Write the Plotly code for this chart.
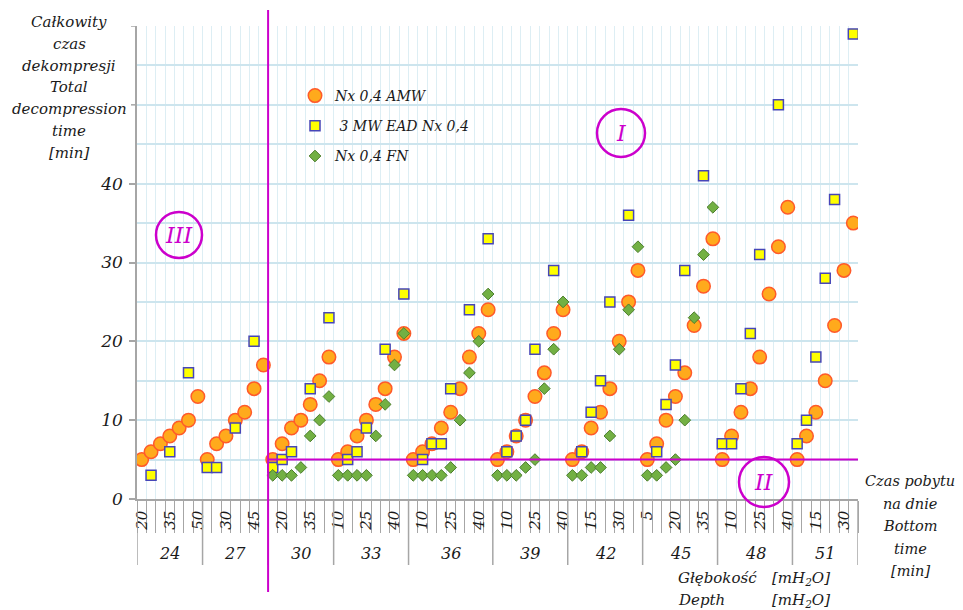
import plotly.graph_objects as go

# ---------------- data ----------------
depths = [24, 27, 30, 33, 36, 39, 42, 45, 48, 51]
bottom_times = [
    [20, 25, 30, 35, 40, 45, 50],
    [20, 25, 30, 35, 40, 45, 50],
    [15, 20, 25, 30, 35, 40, 45],
    [10, 15, 20, 25, 30, 35, 40, 45],
    [5, 10, 15, 20, 25, 30, 35, 40, 45],
    [5, 10, 15, 20, 25, 30, 35, 40],
    [5, 10, 15, 20, 25, 30, 35, 40],
    [5, 10, 15, 20, 25, 30, 35, 40],
    [5, 10, 15, 20, 25, 30, 35, 40],
    [5, 10, 15, 20, 25, 30, 35],
]
nx_amw = [
    [5, 6, 7, 8, 9, 10, 13],
    [5, 7, 8, 10, 11, 14, 17],
    [5, 7, 9, 10, 12, 15, 18],
    [5, 6, 8, 10, 12, 14, 18, 21],
    [5, 6, 7, 9, 11, 14, 18, 21, 24],
    [5, 6, 8, 10, 13, 16, 21, 24],
    [5, 6, 9, 11, 14, 20, 25, 29],
    [5, 7, 10, 13, 16, 22, 27, 33],
    [5, 8, 11, 14, 18, 26, 32, 37],
    [5, 8, 11, 15, 22, 29, 35],
]
mw_ead = [
    [None, 3, None, 6, None, 16, None],
    [4, 4, None, 9, None, 20, None],
    [4, 5, 6, None, 14, None, 23],
    [None, 5, 6, 9, None, 19, None, 26],
    [None, 5, 7, 7, 14, None, 24, None, 33],
    [None, 6, 8, 10, 19, None, 29, None],
    [None, 6, 11, 15, 25, None, 36, None],
    [None, 6, 12, 17, 29, None, 41, None],
    [7, 7, 14, 21, 31, None, 50, None],
    [7, 10, 18, 28, 38, None, 59],
]
nx_fn = [
    [None] * 7,
    [None] * 7,
    [3, 3, 3, 4, 8, 10, 13],
    [3, 3, 3, 3, 8, 12, 17, 21],
    [3, 3, 3, 3, 4, 10, 16, 20, 26],
    [3, 3, 3, 4, 5, 14, 19, 25],
    [3, 3, 4, 4, 8, 19, 24, 32],
    [3, 3, 4, 5, 10, 23, 31, 37],
    [None] * 8,
    [None] * 7,
]
series_names = ["Nx 0,4 AMW", "\u00a03 MW EAD Nx 0,4", "Nx 0,4 FN"]
y_ticks = [0, 10, 20, 30, 40]
y_extra_ticks = [50, 60]
ytitle_lines = ["Całkowity", "czas", "dekompresji", "Total", "decompression", "time", "[min]"]
xtitle_lines = ["Czas pobytu", "na dnie", "Bottom", "time", "[min]"]

# ---------------- build category positions ----------------
xs, labels, group_start, group_end = [], [], [], []
idx = 0
for times in bottom_times:
    group_start.append(idx)
    for t in times:
        xs.append(idx)
        labels.append(str(t))
        idx += 1
    group_end.append(idx - 1)
n_cat = idx


def flat(nested):
    return [v for grp in nested for v in grp]


FONT = "DejaVu Serif"
TXT = "#1a1a1a"
MAG = "#CC00CC"
AXC = "#A6A6A6"

fig = go.Figure()
fig.add_trace(go.Scatter(
    x=xs, y=flat(nx_amw), mode="markers", name=series_names[0], legendgroup="a",
    marker=dict(symbol="circle", size=13.5, color="#FFAA1C", line=dict(color="#FF5A2A", width=1.5))))
fig.add_trace(go.Scatter(
    x=xs, y=flat(mw_ead), mode="markers", name=series_names[1], legendgroup="b",
    marker=dict(symbol="square", size=10, color="#FFFF00", line=dict(color="#4646B8", width=1.5))))
fig.add_trace(go.Scatter(
    x=xs, y=flat(nx_fn), mode="markers", name=series_names[2], legendgroup="c",
    marker=dict(symbol="diamond", size=9, color="#72B043", line=dict(color="#4C7D2C", width=1))))

tick_idx = list(range(0, n_cat, 3))
boundaries = [i - 0.5 for i in range(n_cat + 1)]

# page geometry (the page body adds an 8px offset)
OFF = 8
W, H = 963, 610
PL, PR, PT, PB = 137, 858, 26, 499      # plot area in page pixels
L, T = PL - OFF, PT - OFF
R = W - (PR - OFF)
B = H - (PB - OFF)
pw, ph = PR - PL, PB - PT


def px_x(p):
    return (p - PL) / pw


def px_y(p):
    return (PB - p) / ph


annotations = []
for d, s, e in zip(depths, group_start, group_end):
    annotations.append(dict(x=(s + e) / 2, y=px_y(553), xref="x", yref="paper", text=str(d),
                            showarrow=False, xanchor="center", yanchor="middle",
                            font=dict(family=FONT, size=16, style="italic", color=TXT)))
for k, line in enumerate(ytitle_lines):
    annotations.append(dict(x=px_x(69), y=px_y(22 + k * 21.8), xref="paper", yref="paper", text=line,
                            showarrow=False, xanchor="center", yanchor="middle",
                            font=dict(family=FONT, size=15, style="italic", color=TXT)))
for k, line in enumerate(xtitle_lines):
    annotations.append(dict(x=px_x(910), y=px_y(481 + k * 22.5), xref="paper", yref="paper", text=line,
                            showarrow=False, xanchor="center", yanchor="middle",
                            font=dict(family=FONT, size=14.5, style="italic", color=TXT)))
for txt, xp, yp in [("Głębokość", 676, 578), ("[mH<sub>2</sub>O]", 770, 578),
                    ("Depth", 676, 600), ("[mH<sub>2</sub>O]", 770, 600)]:
    annotations.append(dict(x=px_x(xp), y=px_y(yp), xref="paper", yref="paper", text=txt,
                            showarrow=False, xanchor="left", yanchor="middle",
                            font=dict(family=FONT, size=15, style="italic", color=TXT)))

shapes = []
roman = [("I", 621, 133, 24), ("II", 764, 482, 25), ("III", 179, 235, 23)]
for txt, cx, cy, r in roman:
    shapes.append(dict(type="circle", xref="paper", yref="paper",
                       x0=px_x(cx - r), x1=px_x(cx + r), y0=px_y(cy + r), y1=px_y(cy - r),
                       line=dict(color=MAG, width=2.5)))
    annotations.append(dict(x=px_x(cx), y=px_y(cy), xref="paper", yref="paper", text=txt,
                            showarrow=False, xanchor="center", yanchor="middle",
                            font=dict(family=FONT, size=22, style="italic", color=MAG)))

for s in group_start + [n_cat]:
    shapes.append(dict(type="line", xref="x", yref="paper", x0=s - 0.5, x1=s - 0.5,
                       y0=0, y1=px_y(565), line=dict(color=AXC, width=1.5)))

# y tick marks above the labelled range
for v in y_extra_ticks:
    shapes.append(dict(type="line", xref="paper", yref="y", x0=px_x(PL - 6), x1=0,
                       y0=v, y1=v, line=dict(color=AXC, width=1.5)))

split = group_start[2] - 0.5
shapes.append(dict(type="line", xref="x", yref="paper", x0=split, x1=split,
                   y0=px_y(592), y1=px_y(10), line=dict(color=MAG, width=2)))
shapes.append(dict(type="line", xref="x", yref="y", x0=split, x1=n_cat - 0.5,
                   y0=5, y1=5, line=dict(color=MAG, width=2)))

fig.update_layout(
    width=W, height=H,
    margin=dict(l=L, r=R, t=T, b=B),
    paper_bgcolor="white", plot_bgcolor="white",
    showlegend=True,
    legend=dict(x=px_x(295), y=px_y(80), xanchor="left", yanchor="top",
                bgcolor="rgba(0,0,0,0)", traceorder="grouped", tracegroupgap=9,
                font=dict(family=FONT, size=14, style="italic", color=TXT)),
    xaxis=dict(range=[-0.5, n_cat - 0.5], tickmode="array", tickvals=tick_idx,
               ticktext=[labels[i] for i in tick_idx], tickangle=-90, ticks="",
               ticklabelstandoff=4,
               showgrid=False, zeroline=False, showline=True, linecolor=AXC, linewidth=1.5,
               tickfont=dict(family=FONT, size=15, style="italic", color=TXT),
               minor=dict(tickmode="array", tickvals=boundaries, ticks="outside", ticklen=32,
                          tickcolor=AXC, tickwidth=1, showgrid=True, gridcolor="#DDEEF4", gridwidth=1)),
    yaxis=dict(range=[0, 60], tickmode="array", tickvals=y_ticks,
               ticks="outside", ticklen=6, tickcolor=AXC, tickwidth=1.5,
               showline=True, linecolor=AXC, linewidth=1.5, zeroline=False,
               showgrid=True, gridcolor="#CDE5EE", gridwidth=1.5,
               ticklabelstandoff=3,
               tickfont=dict(family=FONT, size=17, style="italic", color=TXT),
               minor=dict(tickmode="linear", tick0=0, dtick=5, ticks="", showgrid=True,
                          gridcolor="#CDE5EE", gridwidth=1.5)),
    annotations=annotations,
    shapes=shapes,
)

fig.write_html("out.html")
